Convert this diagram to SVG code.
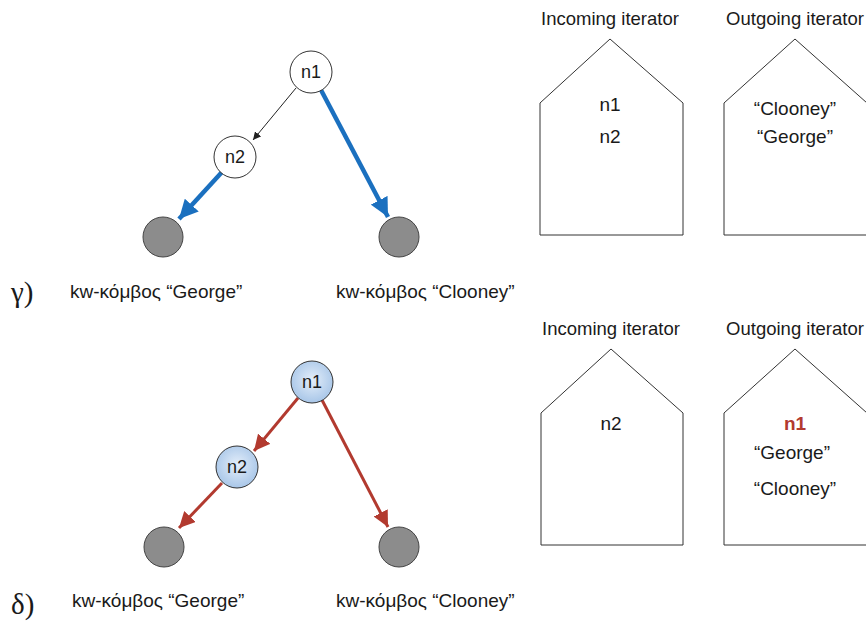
<svg xmlns="http://www.w3.org/2000/svg" width="866" height="621" viewBox="0 0 866 621">
  <style>
    text { font-family: "Liberation Sans", Arial, sans-serif; fill: #1a1a1a; }
    .lbl { font-size: 19px; }
    .title { font-size: 18.5px; text-anchor: middle; }
    .item { font-size: 19px; text-anchor: middle; }
    .node-txt { font-size: 18px; text-anchor: middle; }
    .greek { font-family: "Liberation Serif", "Times New Roman", serif; font-size: 29px; }
    .plain { fill: #ffffff; stroke: #333333; stroke-width: 1; }
    .lit { fill: url(#litFill); stroke: #333333; stroke-width: 1; }
    .kw { fill: #8c8c8c; stroke: #444444; stroke-width: 1; }
    .house { fill: #ffffff; stroke: #333333; stroke-width: 1; }
    .thin { stroke: #222222; stroke-width: 1; fill: none; }
    .blue { stroke: #1b70bf; stroke-width: 4.5; fill: none; }
    .red { stroke: #b23a2f; stroke-width: 3; fill: none; }
  </style>
  <defs>
    <radialGradient id="litFill" cx="0.5" cy="0.45" r="0.55">
      <stop offset="0" stop-color="#e4eefa"/>
      <stop offset="1" stop-color="#a8c6e8"/>
    </radialGradient>
    <marker id="mThin" viewBox="0 0 10 10" refX="10" refY="5" markerWidth="8" markerHeight="8" markerUnits="userSpaceOnUse" orient="auto">
      <path d="M0,0 L10,5 L0,10 z" fill="#222222"/>
    </marker>
    <marker id="mBlue" viewBox="0 0 10 10" refX="10" refY="5" markerWidth="4.2" markerHeight="4.2" orient="auto">
      <path d="M0,0 L10,5 L0,10 z" fill="#1b70bf"/>
    </marker>
    <marker id="mRed" viewBox="0 0 10 10" refX="10" refY="5" markerWidth="5.3" markerHeight="5.3" orient="auto">
      <path d="M0,0 L10,5 L0,10 z" fill="#b23a2f"/>
    </marker>
  </defs>

  <!-- connectors -->
  <g id="connectors">
    <line class="thin" x1="296" y1="88" x2="253" y2="140" marker-end="url(#mThin)"/>
    <line class="blue" x1="222" y1="172" x2="179" y2="219" marker-end="url(#mBlue)"/>
    <line class="blue" x1="321" y1="90" x2="388" y2="217" marker-end="url(#mBlue)"/>
    <line class="red" x1="298" y1="398" x2="254" y2="451" marker-end="url(#mRed)"/>
    <line class="red" x1="222" y1="483" x2="179" y2="528" marker-end="url(#mRed)"/>
    <line class="red" x1="322" y1="400" x2="388" y2="527" marker-end="url(#mRed)"/>
  </g>

  <!-- upper graph (γ) -->
  <g id="g-n1">
    <circle class="plain" cx="311" cy="72" r="21"/>
    <text class="node-txt" x="311" y="78">n1</text>
  </g>
  <g id="g-n2">
    <circle class="plain" cx="235" cy="157" r="21"/>
    <text class="node-txt" x="235" y="163">n2</text>
  </g>
  <g id="g-kw-george">
    <circle class="kw" cx="163" cy="237" r="20"/>
    <text class="lbl" x="70" y="298">kw-κόμβος “George”</text>
  </g>
  <g id="g-kw-clooney">
    <circle class="kw" cx="399" cy="237" r="20"/>
    <text class="lbl" x="336" y="298">kw-κόμβος “Clooney”</text>
  </g>
  <text class="greek" x="11" y="302">γ)</text>

  <!-- upper iterators -->
  <g id="g-in-iter">
    <text class="title" x="610" y="25">Incoming iterator</text>
    <path class="house" d="M540,235 L540,103 L610,39 L683,103 L683,235 Z"/>
    <text class="item" x="610" y="111">n1</text>
    <text class="item" x="610" y="143">n2</text>
  </g>
  <g id="g-out-iter">
    <text class="title" x="795" y="25">Outgoing iterator</text>
    <path class="house" d="M724,235 L724,103 L795,39 L867,103 L867,235 Z"/>
    <text class="item" x="795" y="115">“Clooney”</text>
    <text class="item" x="795" y="143">“George”</text>
  </g>

  <!-- lower graph (δ) -->
  <g id="d-n1">
    <circle class="lit" cx="312" cy="382" r="21"/>
    <text class="node-txt" x="312" y="388">n1</text>
  </g>
  <g id="d-n2">
    <circle class="lit" cx="237" cy="467" r="21"/>
    <text class="node-txt" x="237" y="473">n2</text>
  </g>
  <g id="d-kw-george">
    <circle class="kw" cx="164" cy="547" r="20"/>
    <text class="lbl" x="72" y="607">kw-κόμβος “George”</text>
  </g>
  <g id="d-kw-clooney">
    <circle class="kw" cx="399" cy="547" r="20"/>
    <text class="lbl" x="336" y="607">kw-κόμβος “Clooney”</text>
  </g>
  <text class="greek" x="11" y="614">δ)</text>

  <!-- lower iterators -->
  <g id="d-in-iter">
    <text class="title" x="611" y="335">Incoming iterator</text>
    <path class="house" d="M541,545 L541,413 L611,349 L683,413 L683,545 Z"/>
    <text class="item" x="611" y="430">n2</text>
  </g>
  <g id="d-out-iter">
    <text class="title" x="795" y="335">Outgoing iterator</text>
    <path class="house" d="M724,545 L724,413 L795,349 L867,413 L867,545 Z"/>
    <text class="item" x="795" y="430" style="fill:#b23a2f;font-weight:bold">n1</text>
    <text class="item" x="792" y="459">“George”</text>
    <text class="item" x="795" y="495">“Clooney”</text>
  </g>
</svg>
